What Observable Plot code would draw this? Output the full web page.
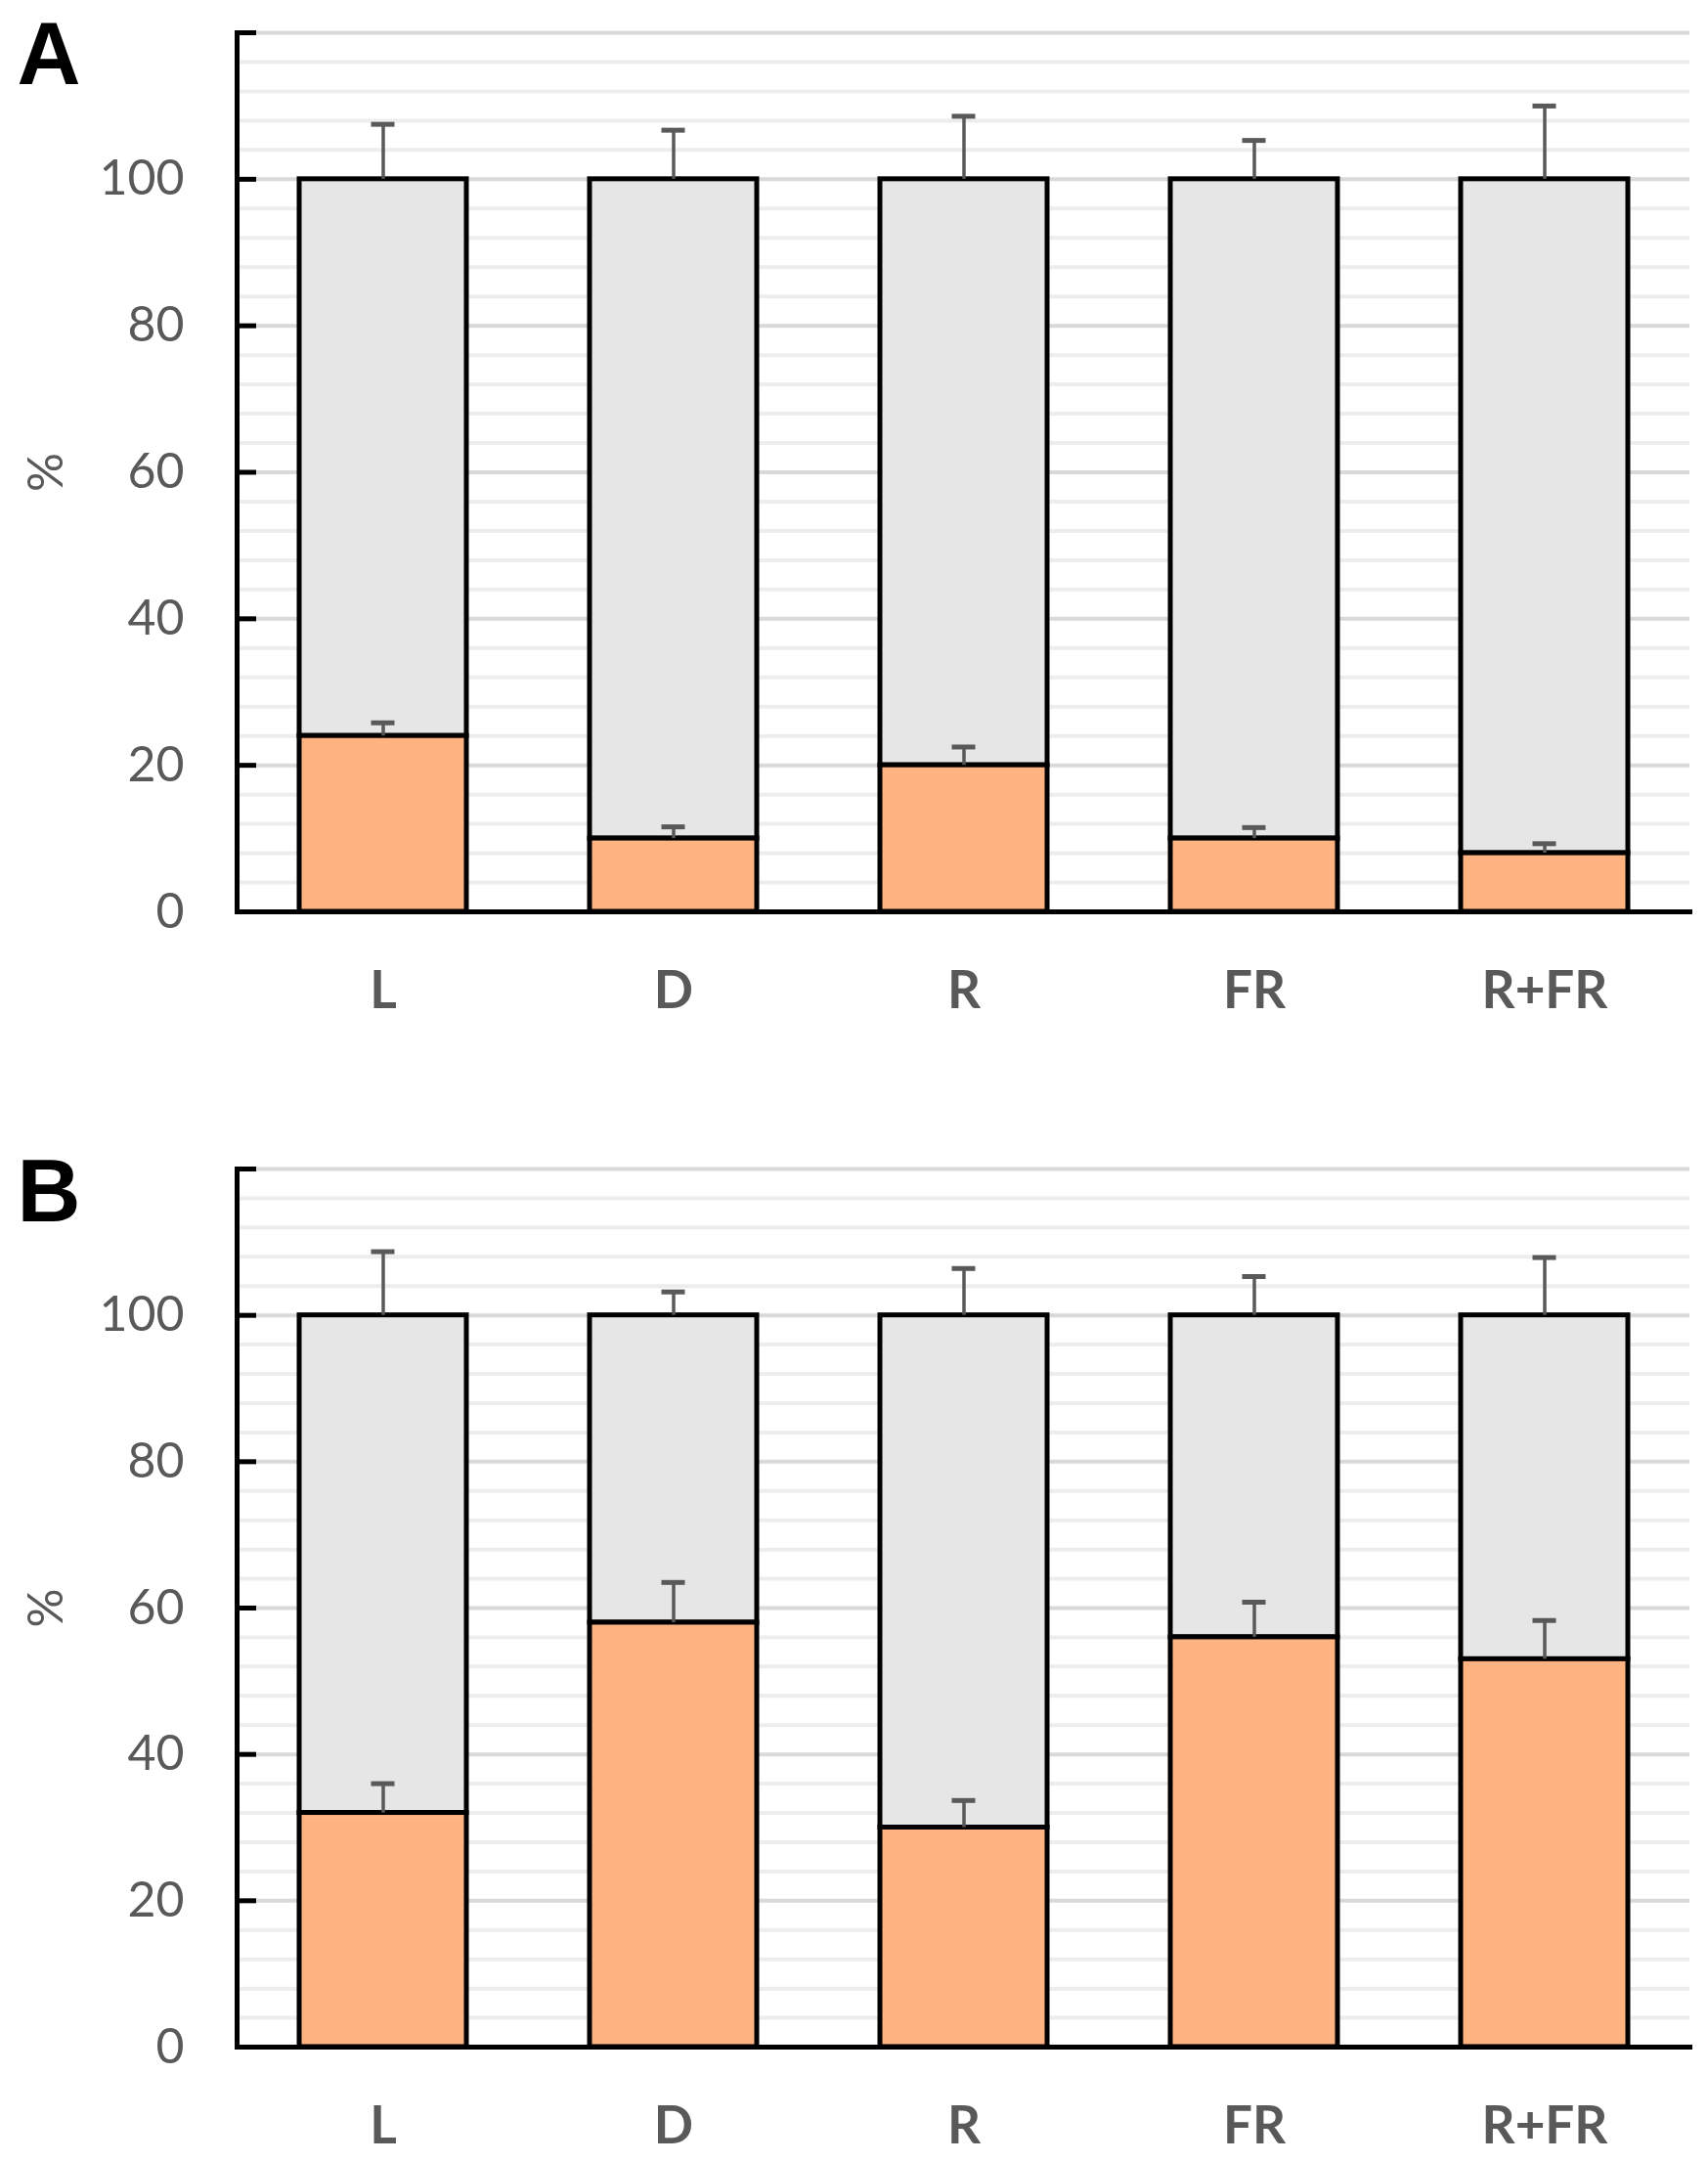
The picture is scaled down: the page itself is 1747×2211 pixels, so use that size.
<!DOCTYPE html>
<html><head><meta charset="utf-8">
<script src="https://cdn.jsdelivr.net/npm/d3@7"></script>
<script src="https://cdn.jsdelivr.net/npm/@observablehq/plot@0.6"></script>
<style>body{margin:0;background:#fff} svg{display:block}</style>
</head><body><div id="chart"></div>
<script>
const categories = ["L", "D", "R", "FR", "R+FR"];
// Panel A
const aValues   = [24, 10, 20, 10, 8];
const aValueErr = [1.8, 1.6, 2.5, 1.5, 1.3];
const aRestErr  = [7.5, 6.7, 8.6, 5.3, 10.0];
// Panel B
const bValues   = [32, 58, 30, 56, 53];
const bValueErr = [4.0, 5.5, 3.7, 4.8, 5.3];
const bRestErr  = [8.7, 3.2, 6.4, 5.3, 7.9];
const yLabelTicks = [0, 20, 40, 60, 80, 100];
const majorTicks = [0, 20, 40, 60, 80, 100, 120];
const minorTicks = d3.range(0, 121, 4).filter(d => d % 20 !== 0);

const W = 1747, ML = 242, MR = 19;

function panel(letter, values, valueErr, restErr, o) {
  const rows = categories.map((c, i) => ({cat: c, v: values[i], ve: values[i] + valueErr[i], re: 100 + restErr[i]}));
  const ink = "#595959";
  return Plot.plot({
    width: W, height: o.height, marginLeft: ML, marginRight: MR, marginTop: o.top, marginBottom: o.bottom,
    style: {fontFamily: "Lato, sans-serif", background: "white"},
    x: {domain: categories, paddingInner: 0.425, paddingOuter: 0.2125, axis: null},
    y: {domain: [0, 120], axis: null},
    marks: [
      Plot.ruleY(minorTicks, {stroke: "#ededed", strokeWidth: 4}),
      Plot.ruleY(majorTicks, {stroke: "#d9d9d9", strokeWidth: 4}),
      Plot.barY(rows, {x: "cat", y1: "v", y2: 100, fill: "#e6e6e6", stroke: "black", strokeWidth: 5}),
      Plot.barY(rows, {x: "cat", y1: 0, y2: "v", fill: "#ffb381", stroke: "black", strokeWidth: 5}),
      Plot.ruleX(rows, {x: "cat", y1: "v", y2: "ve", stroke: ink, strokeWidth: 3.5}),
      Plot.tickY(rows, {x: "cat", y: "ve", stroke: ink, strokeWidth: 5, inset: 73.5}),
      Plot.ruleX(rows, {x: "cat", y1: 100, y2: "re", stroke: ink, strokeWidth: 3.5}),
      Plot.tickY(rows, {x: "cat", y: "re", stroke: ink, strokeWidth: 5, inset: 73.5}),
      Plot.ruleY(majorTicks, {stroke: "black", strokeWidth: 5, insetRight: W - ML - MR - 20}),
      Plot.frame({anchor: "left", stroke: "black", strokeWidth: 5}),
      Plot.frame({anchor: "bottom", stroke: "black", strokeWidth: 5}),
      Plot.axisY(yLabelTicks, {tickSize: 0, tickPadding: 54, fontSize: 50, color: ink, label: null}),
      Plot.axisX({tickSize: 0, tickPadding: 61, fontSize: 53, fontWeight: "bold", color: ink, label: null}),
      Plot.text(["%"], {frameAnchor: "left", dx: -195, rotate: -90, textAnchor: "middle", lineAnchor: "middle", text: d => d, fontSize: 50, fill: ink}),
      Plot.text([letter], {frameAnchor: "top-left", dx: 17 - ML, dy: o.letterDy, lineAnchor: "bottom", textAnchor: "start", text: d => d, fontSize: 90, fontWeight: "bold", fontFamily: "Liberation Sans, Arial, sans-serif", fill: "black"})
    ]
  });
}

const chart = document.getElementById("chart");
chart.appendChild(panel("A", aValues, aValueErr, aRestErr, {height: 1105, top: 33, bottom: 173, letterDy: 52}));
chart.appendChild(panel("B", bValues, bValueErr, bRestErr, {height: 1106, top: 90, bottom: 118, letterDy: 53}));
</script>
</body></html>
